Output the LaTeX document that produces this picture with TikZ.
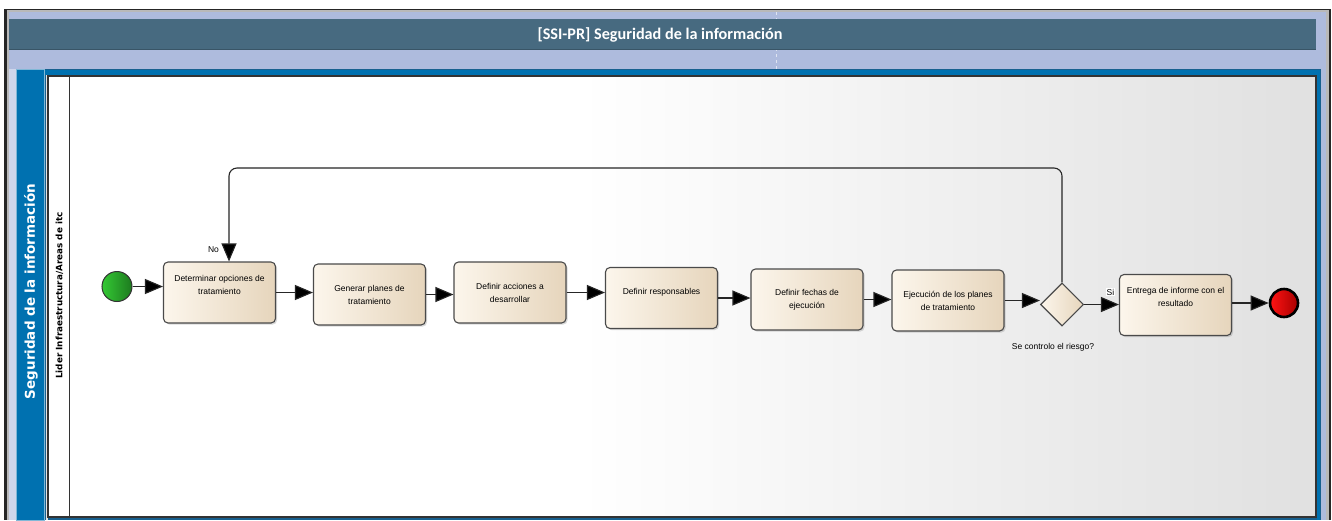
\documentclass[tikz,border=0pt]{standalone}
\usepackage{fontspec}
\setmainfont{Liberation Sans}
\newfontfamily\titlefont{Carlito}
\newfontfamily\poolfont{DejaVu Sans}
\usetikzlibrary{arrows.meta,shapes.geometric,shadows}

\definecolor{frameblue}{HTML}{AEBBDD}
\definecolor{titlebar}{HTML}{476A80}
\definecolor{poolblue}{HTML}{0071B0}
\definecolor{pooldark}{HTML}{17608F}
\definecolor{tasklight}{HTML}{FCF6EC}
\definecolor{taskdark}{HTML}{E6D5BC}
\definecolor{edgegray}{HTML}{4A4A4A}
\definecolor{startlight}{HTML}{34C934}
\definecolor{startdark}{HTML}{1D7A1F}
\definecolor{endlight}{HTML}{FF1414}
\definecolor{enddark}{HTML}{A80000}

\tikzset{
  task/.style={rectangle, rounded corners=4.5, draw=edgegray, line width=1.1,
    left color=tasklight, right color=taskdark,
    minimum width=112, minimum height=61, inner sep=0,
    drop shadow={shadow xshift=1.6pt, shadow yshift=-1.6pt, opacity=0.3}},
  tasktext/.style={align=center, inner sep=0,
    font=\fontsize{8.5}{13}\selectfont},
  gateway/.style={diamond, draw=edgegray, line width=1.1,
    left color=tasklight, right color=taskdark,
    minimum width=43, minimum height=43, inner sep=0},
  startev/.style={circle, minimum size=30, inner sep=0, draw=black!80, line width=1,
    left color=startlight, middle color=startlight, right color=startdark},
  endev/.style={circle, minimum size=28, inner sep=0, draw=black, line width=2.6,
    left color=endlight, middle color=endlight!90!black, right color=enddark},
  flow/.style={draw=black!85, line width=1.1, -{Triangle[length=18,width=15,fill=black]}},
  flowlabel/.style={inner sep=0.8, font=\fontsize{8.5}{10}\selectfont}
}

\begin{document}
\begin{tikzpicture}[x=1pt,y=-1pt]
\useasboundingbox (0,0) rectangle (1332,520);
\fill[white] (0,0) rectangle (1332,520);

% outer window frame
\fill[black!85] (4,8.5) rectangle (1331,520);
\fill[gray!55] (6.5,10) rectangle (1328.5,520);
\fill[frameblue] (8.5,12) rectangle (1326,520);
\draw[white!60!frameblue, dashed, line width=0.5] (776,12) -- (776,69);

% title bar
\fill[titlebar] (9,19) rectangle (1316,50);
\draw[titlebar!80!black, line width=0.8] (9,49.6) -- (1316,49.6);
\node[text=white, font=\titlefont\bfseries\fontsize{16.2}{18}\selectfont] (title) at (660,34.5)
  {[SSI-PR] Seguridad de la información};

% pool
\fill[white!40!frameblue] (9,69) rectangle (16,520);
\fill[pooldark] (45,69) rectangle (1321,520);
\fill[poolblue] (45,70) rectangle (1320,74.5);
\fill[poolblue] (1317,70) rectangle (1320,520);
\draw[fill=poolblue, draw=white!50!poolblue, line width=0.8] (16.4,69.4) rectangle (44.6,520.5);
\fill[black!10] (45.5,75) rectangle (48,520);
\node[rotate=90, text=white, font=\poolfont\bfseries\fontsize{13.5}{15}\selectfont] (poollbl)
  at (31,291.5) {Seguridad de la información};

% lane
\fill[white] (48,76) rectangle (580,517);
\shade[left color=white, right color=black!12] (580,76) rectangle (1316,517);
\draw[black!80, line width=1.2] (48,76) rectangle (1316,517);
\draw[black!80, line width=1] (69.5,76) -- (69.5,517);
\node[rotate=90, font=\poolfont\bfseries\fontsize{8.8}{10}\selectfont] (lanelbl)
  at (59.5,295.5) {Lider Infraestructura/Areas de itc};

% events, activities and gateway
\node[startev] (s) at (117,286.5) {};
\node[task] (t1) at (219.5,292.5) {};
\node[task] (t2) at (369.5,294.5) {};
\node[task] (t3) at (510,292.5) {};
\node[task] (t4) at (661.5,298) {};
\node[task] (t5) at (807,299.5) {};
\node[task] (t6) at (948,300.5) {};
\node[gateway] (g) at (1062,304.5) {};
\node[task] (t7) at (1175.5,305) {};
\node[endev] (e) at (1284,303) {};

\node[tasktext] (t1x) at ([yshift=8]t1.center) {Determinar opciones de\\tratamiento};
\node[tasktext] (t2x) at (t2.center) {Generar planes de\\tratamiento};
\node[tasktext] (t3x) at (t3.center) {Definir acciones a\\desarrollar};
\node[tasktext] (t4x) at ([yshift=6]t4.center) {Definir responsables};
\node[tasktext] (t5x) at (t5.center) {Definir fechas de\\ejecución};
\node[tasktext] (t6x) at (t6.center) {Ejecución de los planes\\de tratamiento};
\node[tasktext] (t7x) at ([yshift=8.5]t7.center) {Entrega de informe con el\\resultado};
\node[flowlabel, anchor=north] (gx) at (1053,342) {Se controlo el riesgo?};

% sequence flows
\draw[flow] (s.east) -- (s.east -| t1.west);
\draw[flow] (t1.east) -- (t1.east -| t2.west);
\draw[flow] (t2.east) -- (t2.east -| t3.west);
\draw[flow] (t3.east) -- (t3.east -| t4.west);
\draw[flow] (t4.east) -- (t4.east -| t5.west);
\draw[flow] (t5.east) -- (t5.east -| t6.west);
\draw[flow] (t6.east) -- (t6.east -| g.west);
\draw[flow] (g.east) -- (g.east -| t7.west);
\draw[flow] (t7.east |- e.west) -- (e.west);

% loop back when the risk is not controlled
\coordinate (loop) at (229,168);
\draw[flow, rounded corners=8] (g.north) |- (loop) -- (loop |- t1.north);

\node[flowlabel] (nolbl) at (213.5,250) {No};
\node[flowlabel, fill=white] (silbl) at (1110.5,292) {Si};
\end{tikzpicture}
\end{document}
